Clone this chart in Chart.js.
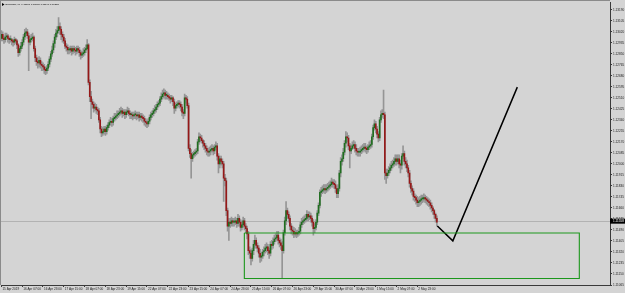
<!DOCTYPE html>
<html><head><meta charset="utf-8">
<script src="https://cdn.jsdelivr.net/npm/chart.js@4.4.1/dist/chart.umd.min.js"></script>
<style>html,body{margin:0;padding:0;background:#d4d4d4;overflow:hidden}#wrap{width:625px;height:293px}</style>
</head><body><div id="wrap"><canvas id="c" width="625" height="293"></canvas></div>
<script>
// ---- data ----
const symbolTitle = "EURUSD,H1";
const titleQuote = ["1.11566", "1.11578", "1.11541", "1.11558"];
const timeLabels = ["15 Apr 2019","16 Apr 07:00","16 Apr 23:00","17 Apr 15:00","18 Apr 07:00","18 Apr 23:00","19 Apr 15:00","22 Apr 07:00","22 Apr 23:00","23 Apr 15:00","24 Apr 07:00","24 Apr 23:00","25 Apr 15:00","26 Apr 07:00","26 Apr 23:00","29 Apr 15:00","30 Apr 07:00","30 Apr 23:00","1 May 15:00","2 May 07:00","2 May 23:00"];
const barsPerTimeLabel = 16;
const priceTicks = [1.11065,1.11150,1.11235,1.11320,1.11405,1.11490,1.11575,1.11660,1.11745,1.11830,1.11915,1.12000,1.12085,1.12170,1.12255,1.12340,1.12425,1.12510,1.12595,1.12680,1.12765,1.12850,1.12935,1.13020,1.13105,1.13190];
const firstOpen = 1.1297;
const closes = [
1.1300,1.1297,1.1296,1.1298,1.1299,1.1297,1.1296,1.1296,1.1295,1.1294,1.1296,1.1295,1.1292,1.1286,1.1289,1.1291,
1.1294,1.1298,1.1301,1.1302,1.1299,1.1294,1.1296,1.1297,1.1298,1.1289,1.1282,1.1279,1.1278,1.1280,1.1277,1.1276,
1.1275,1.1273,1.1272,1.1274,1.1277,1.1281,1.1285,1.1288,1.1293,1.1298,1.1301,1.1303,1.1306,1.1304,1.1300,1.1298,
1.1295,1.1291,1.1290,1.1288,1.1288,1.1289,1.1287,1.1289,1.1288,1.1287,1.1289,1.1288,1.1286,1.1284,1.1285,1.1286,
1.1288,1.1289,1.1292,1.1263,1.1252,1.1248,1.1246,1.1243,1.1244,1.1242,1.1241,1.1234,1.1227,1.1224,1.1225,1.1227,
1.1225,1.1228,1.1230,1.1232,1.1233,1.1232,1.1235,1.1236,1.1237,1.1238,1.1239,1.1240,1.1241,1.1239,1.1240,1.1238,
1.1240,1.1241,1.1239,1.1238,1.1238,1.1237,1.1238,1.1238,1.1237,1.1238,1.1236,1.1237,1.1236,1.1235,1.1233,1.1232,
1.1231,1.1233,1.1236,1.1238,1.1239,1.1241,1.1242,1.1244,1.1246,1.1247,1.1250,1.1252,1.1254,1.1255,1.1253,1.1253,
1.1252,1.1251,1.1250,1.1251,1.1248,1.1243,1.1245,1.1246,1.1247,1.1246,1.1244,1.1240,1.1239,1.1251,1.1250,1.1245,
1.1212,1.1208,1.1204,1.1207,1.1208,1.1209,1.1210,1.1217,1.1221,1.1220,1.1218,1.1216,1.1214,1.1212,1.1210,1.1209,
1.1210,1.1211,1.1212,1.1210,1.1213,1.1214,1.1206,1.1200,1.1204,1.1202,1.1200,1.1189,1.1187,1.1164,1.1152,1.1155,
1.1154,1.1156,1.1155,1.1155,1.1156,1.1154,1.1158,1.1155,1.1151,1.1153,1.1156,1.1152,1.1150,1.1146,1.1133,1.1131,
1.1127,1.1133,1.1138,1.1141,1.1137,1.1135,1.1131,1.1128,1.1129,1.1132,1.1133,1.1135,1.1136,1.1133,1.1131,1.1138,
1.1137,1.1140,1.1142,1.1143,1.1145,1.1141,1.1139,1.1137,1.1133,1.1147,1.1156,1.1164,1.1161,1.1158,1.1152,1.1149,
1.1148,1.1146,1.1147,1.1146,1.1147,1.1148,1.1153,1.1155,1.1156,1.1157,1.1158,1.1161,1.1159,1.1160,1.1158,1.1155,
1.1150,1.1151,1.1155,1.1162,1.1168,1.1178,1.1179,1.1180,1.1181,1.1180,1.1181,1.1182,1.1183,1.1184,1.1186,1.1185,
1.1184,1.1181,1.1177,1.1181,1.1193,1.1202,1.1204,1.1209,1.1216,1.1221,1.1220,1.1214,1.1210,1.1212,1.1214,1.1215,
1.1212,1.1210,1.1209,1.1209,1.1210,1.1211,1.1212,1.1213,1.1212,1.1211,1.1213,1.1214,1.1215,1.1221,1.1228,1.1231,
1.1227,1.1223,1.1220,1.1234,1.1238,1.1239,1.1238,1.1193,1.1191,1.1193,1.1195,1.1197,1.1199,1.1200,1.1202,1.1204,
1.1202,1.1204,1.1200,1.1199,1.1206,1.1208,1.1202,1.1200,1.1197,1.1193,1.1185,1.1181,1.1179,1.1175,1.1174,1.1172,
1.1170,1.1171,1.1172,1.1173,1.1173,1.1174,1.1173,1.1172,1.1171,1.1170,1.1168,1.1166,1.1164,1.1161,1.1158,1.1155
];
const highs = [
1.1303,1.1302,1.1299,1.1301,1.1301,1.1300,1.1298,1.1299,1.1297,1.1296,1.1298,1.1297,1.1296,1.1293,1.1291,1.1294,
1.1296,1.1300,1.1304,1.1305,1.1304,1.1301,1.1299,1.1300,1.1301,1.1299,1.1291,1.1284,1.1282,1.1283,1.1282,1.1279,
1.1278,1.1277,1.1275,1.1276,1.1279,1.1283,1.1287,1.1291,1.1295,1.1300,1.1304,1.1306,1.1313,1.1309,1.1306,1.1302,
1.1300,1.1297,1.1293,1.1292,1.1290,1.1291,1.1291,1.1291,1.1291,1.1290,1.1291,1.1291,1.1290,1.1288,1.1287,1.1289,
1.1290,1.1292,1.1296,1.1293,1.1265,1.1256,1.1250,1.1248,1.1247,1.1246,1.1244,1.1243,1.1236,1.1229,1.1228,1.1229,
1.1229,1.1230,1.1232,1.1234,1.1236,1.1235,1.1237,1.1239,1.1239,1.1241,1.1241,1.1243,1.1244,1.1243,1.1242,1.1242,
1.1242,1.1244,1.1243,1.1241,1.1240,1.1240,1.1240,1.1241,1.1240,1.1240,1.1240,1.1239,1.1239,1.1238,1.1237,1.1235,
1.1234,1.1235,1.1238,1.1240,1.1241,1.1243,1.1245,1.1246,1.1248,1.1249,1.1252,1.1255,1.1257,1.1258,1.1257,1.1256,
1.1255,1.1254,1.1253,1.1253,1.1252,1.1250,1.1247,1.1248,1.1249,1.1249,1.1248,1.1246,1.1242,1.1254,1.1253,1.1252,
1.1247,1.1215,1.1211,1.1209,1.1210,1.1211,1.1212,1.1219,1.1224,1.1223,1.1222,1.1219,1.1218,1.1216,1.1214,1.1212,
1.1213,1.1214,1.1215,1.1214,1.1215,1.1217,1.1216,1.1208,1.1206,1.1206,1.1204,1.1202,1.1192,1.1189,1.1166,1.1158,
1.1158,1.1159,1.1158,1.1158,1.1159,1.1158,1.1161,1.1160,1.1157,1.1156,1.1159,1.1158,1.1154,1.1152,1.1148,1.1136,
1.1134,1.1135,1.1141,1.1145,1.1143,1.1139,1.1137,1.1134,1.1132,1.1134,1.1136,1.1138,1.1139,1.1138,1.1135,1.1140,
1.1141,1.1143,1.1145,1.1146,1.1148,1.1148,1.1143,1.1142,1.1140,1.1149,1.1159,1.1171,1.1166,1.1163,1.1160,1.1154,
1.1152,1.1151,1.1150,1.1149,1.1149,1.1151,1.1155,1.1158,1.1159,1.1160,1.1161,1.1164,1.1163,1.1163,1.1162,1.1160,
1.1157,1.1154,1.1157,1.1164,1.1170,1.1180,1.1182,1.1183,1.1184,1.1184,1.1184,1.1185,1.1186,1.1187,1.1189,1.1188,
1.1188,1.1187,1.1183,1.1184,1.1195,1.1205,1.1207,1.1212,1.1218,1.1225,1.1224,1.1222,1.1216,1.1215,1.1217,1.1218,
1.1217,1.1215,1.1212,1.1212,1.1213,1.1214,1.1215,1.1216,1.1216,1.1214,1.1215,1.1217,1.1218,1.1223,1.1230,1.1234,
1.1233,1.1229,1.1225,1.1236,1.1241,1.1242,1.1257,1.1240,1.1196,1.1196,1.1198,1.1200,1.1202,1.1203,1.1205,1.1207,
1.1207,1.1207,1.1207,1.1203,1.1208,1.1214,1.1210,1.1205,1.1203,1.1199,1.1195,1.1187,1.1183,1.1181,1.1177,1.1176,
1.1175,1.1174,1.1175,1.1176,1.1176,1.1177,1.1176,1.1175,1.1174,1.1173,1.1172,1.1170,1.1167,1.1165,1.1162,1.1160
];
const lows = [
1.1295,1.1295,1.1293,1.1294,1.1296,1.1294,1.1293,1.1294,1.1292,1.1291,1.1292,1.1293,1.1289,1.1283,1.1284,1.1287,
1.1289,1.1292,1.1296,1.1299,1.1297,1.1272,1.1292,1.1294,1.1295,1.1287,1.1279,1.1276,1.1274,1.1275,1.1274,1.1272,
1.1272,1.1270,1.1269,1.1270,1.1272,1.1275,1.1279,1.1283,1.1286,1.1290,1.1296,1.1298,1.1301,1.1300,1.1296,1.1294,
1.1293,1.1289,1.1287,1.1285,1.1285,1.1286,1.1284,1.1285,1.1286,1.1284,1.1285,1.1286,1.1283,1.1281,1.1282,1.1283,
1.1284,1.1286,1.1288,1.1261,1.1248,1.1235,1.1243,1.1240,1.1241,1.1239,1.1238,1.1232,1.1224,1.1221,1.1222,1.1223,
1.1222,1.1223,1.1226,1.1228,1.1230,1.1229,1.1230,1.1233,1.1234,1.1235,1.1236,1.1237,1.1238,1.1236,1.1237,1.1235,
1.1236,1.1238,1.1237,1.1235,1.1235,1.1234,1.1235,1.1235,1.1234,1.1235,1.1233,1.1234,1.1233,1.1232,1.1230,1.1229,
1.1228,1.1229,1.1231,1.1234,1.1236,1.1237,1.1239,1.1240,1.1242,1.1244,1.1245,1.1248,1.1250,1.1251,1.1250,1.1250,
1.1250,1.1249,1.1247,1.1248,1.1245,1.1239,1.1241,1.1243,1.1244,1.1243,1.1241,1.1237,1.1235,1.1237,1.1247,1.1243,
1.1210,1.1205,1.1189,1.1202,1.1205,1.1206,1.1207,1.1208,1.1215,1.1217,1.1216,1.1213,1.1211,1.1209,1.1207,1.1206,
1.1206,1.1207,1.1209,1.1207,1.1208,1.1211,1.1203,1.1193,1.1197,1.1199,1.1197,1.1171,1.1183,1.1160,1.1148,1.1141,
1.1151,1.1152,1.1152,1.1152,1.1153,1.1151,1.1152,1.1152,1.1148,1.1149,1.1151,1.1149,1.1147,1.1142,1.1130,1.1127,
1.1122,1.1125,1.1130,1.1135,1.1135,1.1132,1.1128,1.1124,1.1125,1.1127,1.1129,1.1131,1.1132,1.1130,1.1127,1.1129,
1.1134,1.1135,1.1138,1.1140,1.1141,1.1138,1.1136,1.1134,1.1112,1.1131,1.1145,1.1153,1.1158,1.1155,1.1149,1.1146,
1.1145,1.1143,1.1144,1.1143,1.1144,1.1145,1.1146,1.1151,1.1153,1.1154,1.1155,1.1156,1.1156,1.1157,1.1155,1.1152,
1.1145,1.1147,1.1149,1.1153,1.1160,1.1166,1.1175,1.1177,1.1178,1.1177,1.1178,1.1179,1.1180,1.1181,1.1182,1.1182,
1.1181,1.1178,1.1174,1.1174,1.1179,1.1190,1.1199,1.1202,1.1207,1.1213,1.1217,1.1211,1.1197,1.1208,1.1211,1.1212,
1.1209,1.1207,1.1206,1.1206,1.1206,1.1208,1.1209,1.1210,1.1209,1.1208,1.1209,1.1211,1.1212,1.1213,1.1219,1.1226,
1.1224,1.1220,1.1217,1.1218,1.1232,1.1236,1.1235,1.1188,1.1185,1.1189,1.1191,1.1193,1.1195,1.1197,1.1198,1.1199,
1.1199,1.1200,1.1197,1.1193,1.1196,1.1204,1.1199,1.1197,1.1194,1.1190,1.1182,1.1178,1.1176,1.1172,1.1171,1.1169,
1.1167,1.1167,1.1168,1.1169,1.1170,1.1171,1.1170,1.1169,1.1168,1.1167,1.1165,1.1163,1.1161,1.1158,1.1155,1.1152
];
const bidPrice = 1.11558;
// drawn objects (bar index, price)
const zoneBars = [186.9, 444.6];
const zonePrices = [1.11115, 1.11467];
const projectionBars = [335.4, 347.3, 396.9];
const projectionPrices = [1.11521, 1.11406, 1.12593];

// ---- build ----
const opens = closes.map((c, i) => i === 0 ? firstOpen : closes[i - 1]);
const bodies = closes.map((c, i) => ({x: i, y: [opens[i], c]}));
const wicks = closes.map((c, i) => ({x: i, y: [lows[i], highs[i]]}));
const zone = [
  {x: zoneBars[0], y: zonePrices[1]}, {x: zoneBars[1], y: zonePrices[1]},
  {x: zoneBars[1], y: zonePrices[0]}, {x: zoneBars[0], y: zonePrices[0]},
  {x: zoneBars[0], y: zonePrices[1]}
];
const projection = projectionBars.map((b, k) => ({x: b, y: projectionPrices[k]}));

const BG = '#d4d4d4';
const FONT = 'Liberation Sans, Arial, sans-serif';

const decor = {
  id: 'decor',
  beforeDraw(chart) {
    const c = chart.ctx;
    c.save(); c.fillStyle = BG; c.fillRect(0, 0, chart.width, chart.height); c.restore();
  },
  beforeDatasetsDraw(chart) {
    const c = chart.ctx, a = chart.chartArea, y = chart.scales.y;
    const py = Math.round(y.getPixelForValue(bidPrice)) + 0.5;
    c.save();
    c.strokeStyle = '#b2b2b2'; c.lineWidth = 1;
    c.beginPath(); c.moveTo(a.left, py); c.lineTo(a.right, py); c.stroke();
    c.strokeStyle = '#8a8a8a';
    c.beginPath(); c.moveTo(0.5, 0); c.lineTo(0.5, a.bottom); c.moveTo(0, 0.5); c.lineTo(a.right, 0.5); c.stroke();
    c.restore();
  },
  afterDraw(chart) {
    const c = chart.ctx, a = chart.chartArea, y = chart.scales.y;
    const py = y.getPixelForValue(bidPrice);
    c.save();
    c.fillStyle = '#000';
    c.fillRect(a.right, py - 2.5, chart.width - a.right, 5);
    c.fillStyle = '#fff';
    c.font = '3.1px ' + FONT; c.textBaseline = 'middle'; c.textAlign = 'left';
    c.fillText(bidPrice.toFixed(5), a.right + 3, py);
    // title
    c.fillStyle = '#000';
    c.beginPath(); c.moveTo(2, 3); c.lineTo(4.5, 4.5); c.lineTo(2, 6); c.closePath(); c.fill();
    c.font = '2.5px ' + FONT; c.textBaseline = 'middle';
    c.fillText(symbolTitle + '  ' + titleQuote.join(' '), 5.5, 4.7);
    c.restore();
  }
};

new Chart(document.getElementById('c'), {
  type: 'bar',
  data: {
    datasets: [
      {type: 'line', data: zone, borderColor: '#1c971c', borderWidth: 1.1, pointRadius: 0, fill: false, tension: 0, order: 0},
      {type: 'line', data: projection, borderColor: '#000', borderWidth: 1.5, pointRadius: 0, fill: false, tension: 0, order: 0},
      {type: 'bar', data: bodies, grouped: false, barThickness: 1, minBarLength: 1, order: 1,
        backgroundColor: (ctx) => (ctx.dataIndex !== undefined && closes[ctx.dataIndex] < opens[ctx.dataIndex]) ? '#951818' : '#1f6e1f'},
      {type: 'bar', data: wicks, grouped: false, barThickness: 1, order: 2, backgroundColor: '#959595'}
    ]
  },
  options: {
    responsive: false, animation: false, devicePixelRatio: 1,
    layout: {padding: {left: 1, top: 1, right: 0, bottom: 0}},
    plugins: {legend: {display: false}, tooltip: {enabled: false}},
    scales: {
      x: {
        type: 'linear', min: -0.3, max: 468.2, offset: false, position: 'bottom',
        afterFit(s) { s.height = 8; },
        afterBuildTicks(s) { s.ticks = timeLabels.map((t, k) => ({value: k * barsPerTimeLabel})); },
        ticks: {autoSkip: false, maxRotation: 0, minRotation: 0, align: 'start', padding: 0, labelOffset: 1,
          color: '#1a1a1a', font: {family: FONT, size: 3.1},
          callback: (v) => { const k = Math.round(v / barsPerTimeLabel); return timeLabels[k] || ''; }},
        grid: {drawOnChartArea: false, offset: false, tickLength: 2, color: '#3a3a3a'},
        border: {display: true, color: '#3a3a3a'}
      },
      y: {
        type: 'linear', position: 'right', min: 1.11065, max: 1.13244,
        afterFit(s) { s.width = 15; },
        afterBuildTicks(s) { s.ticks = priceTicks.map(v => ({value: v})); },
        ticks: {autoSkip: false, padding: 1, color: '#1a1a1a', font: {family: FONT, size: 3.1},
          callback: (v) => Number(v).toFixed(5)},
        grid: {drawOnChartArea: false, tickLength: 2, color: '#3a3a3a'},
        border: {display: true, color: '#3a3a3a'}
      }
    }
  },
  plugins: [decor]
});
</script>
</body></html>
